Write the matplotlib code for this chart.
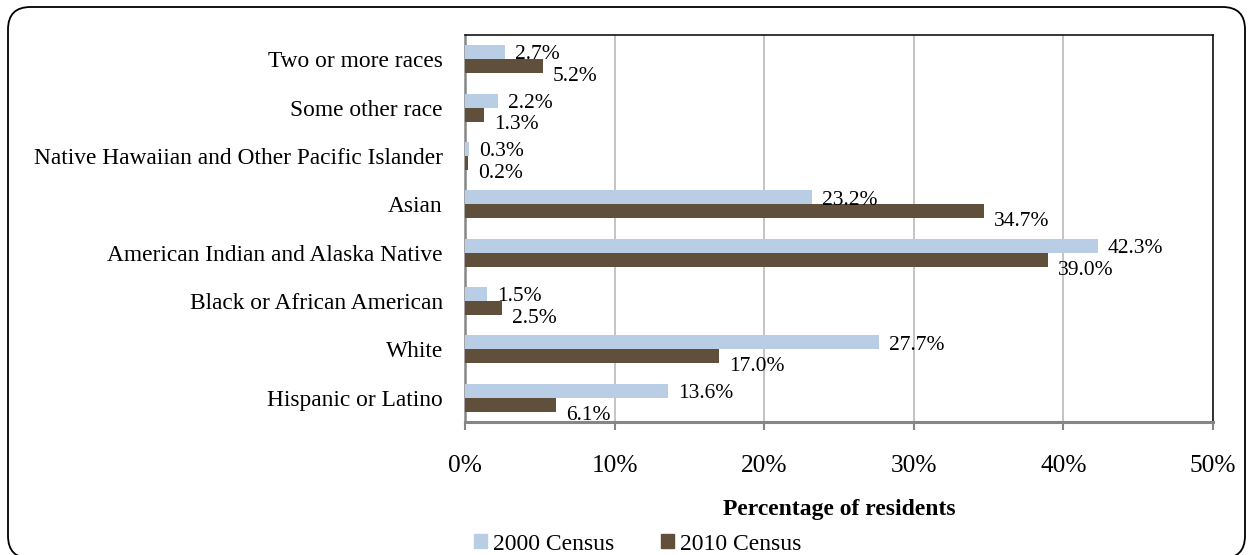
import numpy as np
import matplotlib
matplotlib.use("Agg")
import matplotlib.pyplot as plt
from matplotlib.patches import FancyBboxPatch, Patch

plt.rcParams['font.family'] = ['Liberation Serif', 'DejaVu Serif']

# data, bottom category first
categories = ["Hispanic or Latino", "White", "Black or African American",
              "American Indian and Alaska Native", "Asian",
              "Native Hawaiian and Other Pacific Islander",
              "Some other race", "Two or more races"]
census_2000 = [13.6, 27.7, 1.5, 42.3, 23.2, 0.3, 2.2, 2.7]
census_2010 = [6.1, 17.0, 2.5, 39.0, 34.7, 0.2, 1.3, 5.2]
series_names = ["2000 Census", "2010 Census"]
xticks = [0, 10, 20, 30, 40, 50]

c2000 = '#B9CDE5'
c2010 = '#5F4F3B'

fig = plt.figure(figsize=(12.48, 5.55), dpi=100)
ax = fig.add_axes([465/1248, 1-422/555, (1213-465)/1248, (422-35)/555])

# rounded frame around everything (bottom edge just below the picture)
frame = FancyBboxPatch((8/1248, -0.006), (1245-8)/1248, 1-7/555 + 0.006,
                       boxstyle="round,pad=0,rounding_size=0.018",
                       transform=fig.transFigure, fill=False, ec='black', lw=1.3,
                       mutation_aspect=1248/555, clip_on=False)
fig.patches.append(frame)

y = np.arange(len(categories))
h = 0.29
ax.barh(y + h/2, census_2000, height=h, color=c2000, zorder=3)
ax.barh(y - h/2, census_2010, height=h, color=c2010, zorder=3)

for i in range(len(categories)):
    ax.annotate(f"{census_2000[i]:.1f}%", (census_2000[i], y[i] + h/2),
                xytext=(7, -2), textcoords='offset points', ha='left', va='center',
                fontsize=15.5)
    ax.annotate(f"{census_2010[i]:.1f}%", (census_2010[i], y[i] - h/2),
                xytext=(7, -7.5), textcoords='offset points', ha='left', va='center',
                fontsize=15.5)

ax.set_xlim(0, 50)
ax.set_ylim(-0.5, len(categories) - 0.5)
ax.set_xticks(xticks)
ax.set_xticklabels([f"{t}%" for t in xticks], fontsize=18.3)
ax.set_yticks(y)
ax.set_yticklabels(categories, fontsize=16.8)
ax.tick_params(axis='y', length=0, pad=16)
ax.tick_params(axis='x', length=6, width=1.5, color='#868686', pad=18)
ax.grid(axis='x', color='#BFBFBF', lw=1.3, zorder=0)

for s in ['top', 'right']:
    ax.spines[s].set_color('black')
    ax.spines[s].set_linewidth(1.1)
ax.spines['left'].set_color('#868686')
ax.spines['left'].set_linewidth(1.8)
ax.spines['bottom'].set_color('#868686')
ax.spines['bottom'].set_linewidth(2.2)

fig.text(839/1248, 1-509/555, "Percentage of residents", ha='center', va='center',
         fontsize=17, fontweight='bold')

handles = [Patch(color=c2000), Patch(color=c2010)]
fig.legend(handles, series_names, loc='center left',
           bbox_to_anchor=(474/1248, 1-544/555), ncol=2, frameon=False,
           fontsize=17, handlelength=0.55, handleheight=0.55, handletextpad=0.25,
           columnspacing=2.0, borderpad=0, borderaxespad=0)

fig.savefig("out.png", dpi=100)
